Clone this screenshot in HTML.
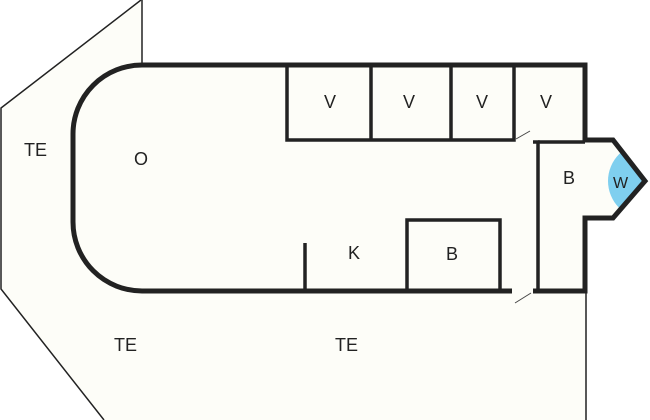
<!DOCTYPE html>
<html><head><style>body{margin:0;background:#fff}svg{display:block}</style></head><body>
<svg width="650" height="420" xmlns="http://www.w3.org/2000/svg" font-family="Liberation Sans, sans-serif" font-size="18" fill="#222">
<defs><clipPath id="c"><polygon points="584,140 613,140 645,181 613,218 584,218"/></clipPath></defs>
<polygon points="142,0 142,65 587,65 587,420 104,420 1,289 1,108" fill="#fdfdf8" stroke="none"/>
<polyline points="141,0 1,108 1,289 104,420" fill="none" stroke="#222" stroke-width="1.5"/>
<line x1="142" y1="0" x2="142" y2="65" stroke="#222" stroke-width="1.5"/>
<line x1="586" y1="290" x2="586" y2="420" stroke="#222" stroke-width="1.5"/>
<path d="M584,140 L613,140 L645,181 L613,218 L584,218 Z" fill="#fdfdf8"/>
<circle cx="646" cy="181" r="38" fill="#7fcfef" clip-path="url(#c)"/>
<g fill="none" stroke="#222" stroke-width="5">
<path d="M512,291 L142,291 A69,69 0 0 1 73,222 L73,134 A69,69 0 0 1 142,65 L585,65 L585,140 L613,140 L645,181 L613,218 L585,218 L585,291 L533,291"/>
</g>
<g fill="none" stroke="#222" stroke-width="3.5">
<path d="M287,65 L287,140 L514,140 L514,65"/>
<line x1="371" y1="65" x2="371" y2="140"/>
<line x1="451" y1="65" x2="451" y2="140"/>
<path d="M533,142 L538,142 L538,291"/>
<line x1="538" y1="142" x2="585" y2="142"/>
<line x1="305" y1="243" x2="305" y2="291"/>
<path d="M407,291 L407,220 L500,220 L500,291"/>
</g>
<g stroke="#444" stroke-width="1">
<line x1="516" y1="139" x2="530" y2="131"/>
<line x1="515" y1="303" x2="531" y2="293"/>
</g>
<text x="24" y="156">TE</text>
<text x="134" y="165">O</text>
<text x="324" y="108">V</text>
<text x="403" y="108">V</text>
<text x="476" y="108">V</text>
<text x="540" y="108">V</text>
<text x="563" y="184">B</text>
<text x="613" y="188" font-size="16">W</text>
<text x="348" y="259">K</text>
<text x="446" y="260">B</text>
<text x="114" y="351">TE</text>
<text x="335" y="351">TE</text>
</svg>
</body></html>
